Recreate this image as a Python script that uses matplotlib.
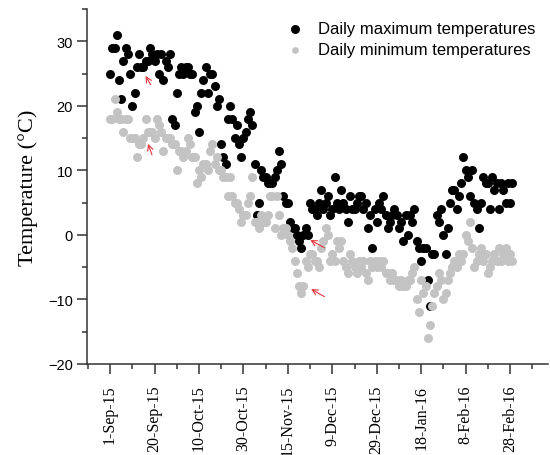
import matplotlib
matplotlib.use("Agg")
import matplotlib.pyplot as plt
import numpy as np
from matplotlib.ticker import MultipleLocator

# daily values, day 0 = 1-Sep-15
tmax = [25, 29, 29, 31, 24, 21, 27, 29, 28, 25, 20, 22, 26, 28, 26, 26, 27, 27, 29, 28,
        27, 28, 25, 28, 24, 27, 26, 28, 18, 17, 22, 25, 26, 25, 26, 26, 25, 25, 19, 20,
        16, 22, 24, 26, 22, 25, 25, 23, 20, 21, 14, 12, 11, 18, 20, 18, 15, 17, 14, 12,
        15, 16, 18, 19, 17, 11, 3, 5, 10, 9, 9, 8, 8, 8, 9, 10, 13, 11, 6, 5,
        5, 2, 1, 1, 0, -1, -2, 0, 1, 0, 5, 4, 4, 3, 5, 7, 4, 5, 6, 3,
        4, 9, 5, 4, 7, 5, 4, 2, 6, 4, 4, 5, 6, 6, 4, 5, 1, 3, -2, 4,
        2, 5, 4, 6, 3, 1, 2, 3, 4, 3, 1, 2, -1, 3, 0, 3, 2, 4, -1, -2,
        -4, -2, -2, -7, -11, -3, -3, 3, 2, 4, 0, -3, 1, 5, 7, 7, 4, 6, 8, 12,
        10, 9, 6, 10, 5, 4, 1, 5, 9, 8, 8, 4, 9, 7, 8, 4, 8, 7, 5, 8,
        5, 8]
tmin = [18, 18, 21, 19, 18, 18, 16, 18, 18, 15, 15, 15, 12, 14, 14, 15, 18, 16, 16, 16,
        15, 18, 17, 16, 13, 15, 15, 15, 14, 14, 10, 13, 13, 12, 13, 15, 14, 12, 12, 8,
        10, 9, 11, 11, 10, 13, 14, 11, 12, 10, 10, 9, 9, 6, 9, 6, 5, 5, 4, 2,
        3, 3, 5, 6, 9, 2, 2, 1, 3, 2, 2, 3, 6, 6, 1, 6, 3, 0, 1, 1,
        0, -1, -2, -4, -6, -8, -9, -8, -4, -5, -3, -3, -4, -4, -5, -2, -1, 1, 0, -4,
        -3, -4, -1, -2, -1, -4, -5, -6, -3, -4, -5, -6, -4, -5, -4, -6, -7, -4, -5, -4,
        -5, -4, -5, -4, -6, -6, -7, -6, -7, -7, -8, -7, -8, -8, -7, -7, -6, -5, -10, -12,
        -7, -9, -8, -16, -14, -11, -9, -8, -6, -7, -10, -9, -7, -6, -5, -4, -5, -3, -4, -3,
        0, -1, 2, -2, -5, -4, -3, -2, -4, -3, -6, -5, -4, -3, -4, -2, -4, -3, -2, -4,
        -3, -4]
days = np.arange(len(tmax))

tick_days = [0, 20, 40, 60, 80, 100, 120, 140, 160, 180]
tick_labels = ['1-Sep-15', '20-Sep-15', '10-Oct-15', '30-Oct-15', '15-Nov-15',
               '9-Dec-15', '29-Dec-15', '18-Jan-16', '8-Feb-16', '28-Feb-16']

# red arrows: (tail day, tail temp, head day, head temp)
arrows = [(18.9, 22.9, 15.3, 25.0), (19.3, 12.0, 16.6, 14.5),
          (97.5, -2.2, 89.0, -0.6), (97.5, -9.8, 89.4, -8.2)]

fig = plt.figure(figsize=(5.5, 4.56), dpi=100)
ax = fig.add_axes([0.159, 0.2, 0.837, 0.778])

ax.scatter(days, tmax, s=42, c='black', linewidths=0, label='Daily maximum temperatures', zorder=2)
ax.scatter(days, tmin, s=42, c='#c3c3c3', linewidths=0, label='Daily minimum temperatures', zorder=3)

for x0, y0, x1, y1 in arrows:
    ax.annotate('', xy=(x1, y1), xytext=(x0, y0),
                arrowprops=dict(arrowstyle='->', color='#e3343a', lw=0.8, mutation_scale=10),
                zorder=4)

ax.set_xlim(-10.2, 197)
ax.set_ylim(-20, 35)
ax.set_xticks(tick_days)
ax.set_xticklabels(tick_labels, rotation=90, family='Liberation Serif', fontsize=11.5)
ax.xaxis.set_minor_locator(MultipleLocator(10))
ax.yaxis.set_minor_locator(MultipleLocator(5))
ax.set_yticks([-20, -10, 0, 10, 20, 30])
for lab in ax.get_yticklabels():
    lab.set_family('Liberation Sans')
    lab.set_fontsize(10.5)

ax.tick_params(which='major', direction='out', length=7, width=1.1, color='#333333')
ax.tick_params(which='minor', direction='out', length=3.5, width=1.1, color='#333333')
ax.tick_params(axis='x', which='major', pad=8)
ax.spines['top'].set_visible(False)
ax.spines['right'].set_visible(False)
for sp in ['left', 'bottom']:
    ax.spines[sp].set_linewidth(1.1)
    ax.spines[sp].set_color('#333333')

ax.set_ylabel('Temperature (°C)', family='Liberation Serif', fontsize=16, labelpad=7)

leg = ax.legend(loc='upper left', bbox_to_anchor=(278 / 550, 1 - 14 / 456),
                bbox_transform=fig.transFigure, frameon=False,
                prop={'family': 'Liberation Sans', 'size': 12},
                handletextpad=0.9, labelspacing=0.35, markerscale=1.0,
                handlelength=1.0, borderpad=0)
leg.legend_handles[1].set_sizes([24])

fig.savefig('out.png', dpi=100)
